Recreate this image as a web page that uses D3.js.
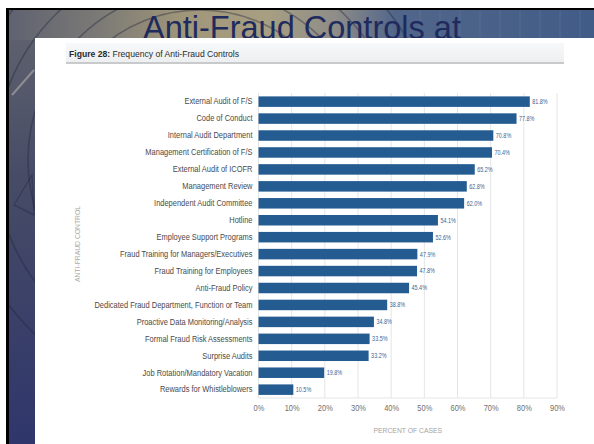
<!DOCTYPE html>
<html>
<head>
<meta charset="utf-8">
<script src="https://cdn.jsdelivr.net/npm/d3@7"></script>
<style>
  html, body { margin: 0; padding: 0; background: #ffffff; }
  svg { display: block; }
</style>
</head>
<body>
<svg id="slide" width="594" height="444"></svg>
<script>
// Anti-fraud controls, share of cases (percent)
const categories = [
  "External Audit of F/S",
  "Code of Conduct",
  "Internal Audit Department",
  "Management Certification of F/S",
  "External Audit of ICOFR",
  "Management Review",
  "Independent Audit Committee",
  "Hotline",
  "Employee Support Programs",
  "Fraud Training for Managers/Executives",
  "Fraud Training for Employees",
  "Anti-Fraud Policy",
  "Dedicated Fraud Department, Function or Team",
  "Proactive Data Monitoring/Analysis",
  "Formal Fraud Risk Assessments",
  "Surprise Audits",
  "Job Rotation/Mandatory Vacation",
  "Rewards for Whistleblowers"
];
const values = [81.8, 77.8, 70.8, 70.4, 65.2, 62.8, 62.0, 54.1, 52.6, 47.9, 47.8, 45.4, 38.8, 34.8, 33.5, 33.2, 19.8, 10.5];
const xTicks = [0, 10, 20, 30, 40, 50, 60, 70, 80, 90];
const slideTitle = "Anti-Fraud Controls at";
const figureLabel = "Figure 28:";
const figureTitle = " Frequency of Anti-Fraud Controls";
const yTitle = "ANTI-FRAUD CONTROL";
const xTitle = "PERCENT OF CASES";

const svg = d3.select("#slide");
const defs = svg.append("defs");

// ---- slide backdrop ----
const bg = defs.append("linearGradient").attr("id", "bgGrad")
  .attr("x1", 0).attr("y1", 0).attr("x2", 0).attr("y2", 1);
bg.append("stop").attr("offset", "0%").attr("stop-color", "#62646e");
bg.append("stop").attr("offset", "40%").attr("stop-color", "#464b66");
bg.append("stop").attr("offset", "100%").attr("stop-color", "#2f366b");

const band = defs.append("linearGradient").attr("id", "bandGrad")
  .attr("x1", 0).attr("y1", 0).attr("x2", 1).attr("y2", 0);
[["0%", "#5f6270"], ["16%", "#7d7b76"], ["30%", "#a09679"], ["44%", "#a89f82"],
 ["56%", "#8d8c88"], ["66%", "#52668a"], ["100%", "#405c87"]].forEach(([o, c]) =>
  band.append("stop").attr("offset", o).attr("stop-color", c));

const headGrad = defs.append("linearGradient").attr("id", "headGrad")
  .attr("x1", 0).attr("y1", 0).attr("x2", 0).attr("y2", 1);
headGrad.append("stop").attr("offset", "0%").attr("stop-color", "#f7f8f9");
headGrad.append("stop").attr("offset", "100%").attr("stop-color", "#eceef0");

defs.append("clipPath").attr("id", "edgeClip")
  .append("path").attr("d", "M9,10 H594 V38 H35 V444 H9 Z");

svg.append("rect").attr("x", 6).attr("y", 8).attr("width", 588).attr("height", 436).attr("fill", "#000");
svg.append("rect").attr("x", 9).attr("y", 10).attr("width", 585).attr("height", 434).attr("fill", "url(#bgGrad)");
svg.append("rect").attr("x", 9).attr("y", 10).attr("width", 585).attr("height", 30).attr("fill", "url(#bandGrad)");

// engraved rings of the seal showing along the edges
const rings = svg.append("g").attr("clip-path", "url(#edgeClip)")
  .attr("fill", "none").attr("stroke", "#23263f").attr("stroke-opacity", 0.4);
[150, 172, 205, 240].forEach(r => {
  rings.append("circle").attr("cx", 200).attr("cy", 160).attr("r", r).attr("stroke-width", 1.6);
});
rings.append("path").attr("d", "M12,95 L34,70").attr("stroke", "#c4c2ba").attr("stroke-opacity", 0.5).attr("stroke-width", 2);
rings.append("path").attr("d", "M14,205 L32,175 L34,215 Z").attr("stroke-width", 1.4);
[420, 440, 460, 480, 500, 520, 540, 560, 580].forEach(v => {
  rings.append("line").attr("x1", v).attr("x2", v).attr("y1", 10).attr("y2", 38)
    .attr("stroke", "#6d83a6").attr("stroke-opacity", 0.35).attr("stroke-width", 1);
});

// slide heading (sits behind the figure panel)
svg.append("text")
  .attr("x", 143).attr("y", 38.5)
  .attr("font-family", "Liberation Sans, Arial, sans-serif")
  .attr("font-size", 32.5)
  .attr("fill", "#1f2a5e")
  .text(slideTitle);

// ---- figure panel ----
svg.append("rect").attr("x", 35).attr("y", 38).attr("width", 559).attr("height", 406).attr("fill", "#ffffff");
svg.append("rect").attr("x", 66).attr("y", 43).attr("width", 498).attr("height", 20).attr("fill", "url(#headGrad)");
svg.append("rect").attr("x", 66).attr("y", 62).attr("width", 498).attr("height", 2).attr("fill", "#c9cacc");

const head = svg.append("text")
  .attr("x", 69).attr("y", 56.5)
  .attr("font-family", "Liberation Sans, Arial, sans-serif")
  .attr("font-size", 8.6)
  .attr("fill", "#2a2a2a");
head.append("tspan").attr("font-weight", "bold").text(figureLabel);
head.append("tspan").text(figureTitle);

// ---- bar chart ----
const plotTop = 93, plotBottom = 398;
const sans = "'Liberation Sans', Arial, sans-serif";
const squeeze = 0.85;   // condensed look for chart lettering

const x = d3.scaleLinear().domain([0, 90]).range([258.5, 557]);
const y = d3.scaleBand().domain(categories)
  .range([plotTop, plotBottom + 0.3])
  .paddingInner(0.38).paddingOuter(0.2);

const chart = svg.append("g");

// vertical gridlines
chart.append("g").selectAll("line").data(xTicks).join("line")
  .attr("x1", d => x(d)).attr("x2", d => x(d))
  .attr("y1", plotTop).attr("y2", plotBottom)
  .attr("stroke", "#e4e5e7").attr("stroke-width", 1);
chart.append("line")
  .attr("x1", x(0)).attr("x2", x(90))
  .attr("y1", plotBottom).attr("y2", plotBottom)
  .attr("stroke", "#e4e5e7");

// bars
chart.append("g").selectAll("rect").data(values).join("rect")
  .attr("x", x(0))
  .attr("y", (d, i) => y(categories[i]))
  .attr("width", d => x(d) - x(0))
  .attr("height", y.bandwidth())
  .attr("fill", "#245c92");

// value labels
chart.append("g").selectAll("text").data(values).join("text")
  .attr("transform", (d, i) =>
    `translate(${x(d) + 2.5},${y(categories[i]) + y.bandwidth() / 2}) scale(0.8,1)`)
  .attr("dy", "0.35em")
  .attr("font-family", sans)
  .attr("font-size", 6.8)
  .attr("fill", "#3b6493")
  .text(d => d.toFixed(1) + "%");

// category axis
const yAxis = chart.append("g")
  .attr("transform", `translate(${x(0)},0)`)
  .call(d3.axisLeft(y).tickSize(0).tickPadding(6));
yAxis.select(".domain").remove();
yAxis.selectAll("text")
  .attr("x", -6 / squeeze)
  .attr("transform", `scale(${squeeze},1)`)
  .attr("font-family", sans)
  .attr("font-size", 8.8)
  .attr("fill", "#4a4a4a");

// percent axis
const xAxis = chart.append("g")
  .attr("transform", `translate(0,${plotBottom})`)
  .call(d3.axisBottom(x).tickValues(xTicks).tickFormat(d => d + "%").tickSize(0).tickPadding(7));
xAxis.select(".domain").remove();
xAxis.selectAll("text")
  .attr("transform", `scale(${squeeze},1)`)
  .attr("font-family", sans)
  .attr("font-size", 8.8)
  .attr("fill", "#6f6f6f");

// axis titles
chart.append("text")
  .attr("transform", `translate(${(x(0) + x(90)) / 2},433) scale(${squeeze},1)`)
  .attr("text-anchor", "middle")
  .attr("font-family", sans)
  .attr("font-size", 8)
  .attr("fill", "#a3a3a3")
  .text(xTitle);

chart.append("text")
  .attr("transform", `translate(80,244) rotate(-90) scale(${squeeze},1)`)
  .attr("text-anchor", "middle")
  .attr("font-family", sans)
  .attr("font-size", 8)
  .attr("fill", "#ababab")
  .text(yTitle);
</script>
</body>
</html>
